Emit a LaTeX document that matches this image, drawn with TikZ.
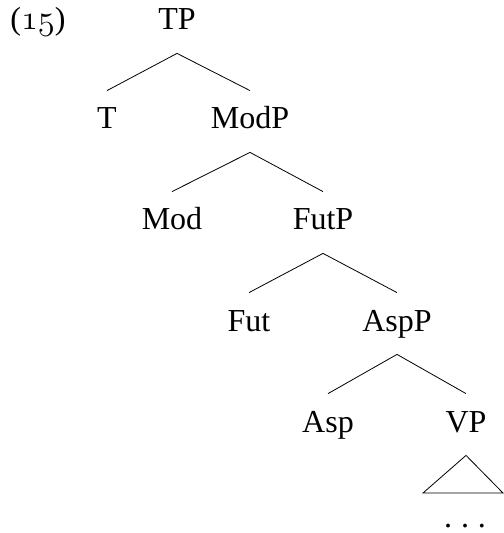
\documentclass[tikz,border=0pt]{standalone}
\usepackage{fontspec}
\setmainfont{Liberation Serif}
\usetikzlibrary{positioning}

% old style digits for the example number
\newcommand{\exnum}[1]{{\usefont{OML}{cmm}{m}{it}#1}}

\begin{document}
\begin{tikzpicture}[
            x = 0.5pt, y = -0.5pt, % one unit per pixel
            thin, % line style
            every node/.style={font=\fontsize{16}{18}\selectfont}
        ]

        \tikzstyle{cat}=[
            anchor = base,
            text height = 10.5pt,
            text depth = 3pt,
            inner xsep = 0pt,
            inner ysep = 8.5pt
        ]

        \useasboundingbox (0,0) rectangle (503,533);

        \node[anchor=base west, inner sep=0pt] (ex) at (10,30) {(\exnum{15})};

        \node[cat] (TP) at (177,30) {TP};

        \node[cat] (T) at (107,129) {T};
        \node[cat] (ModP) at (250,129) {ModP};

        \node[cat] (Mod) at (172,230) {Mod};
        \node[cat] (FutP) at (323,230) {FutP};

        \node[cat] (Fut) at (249,331) {Fut};
        \node[cat] (AspP) at (397,331) {AspP};

        \node[cat] (Asp) at (328,432) {Asp};
        \node[cat] (VP) at (466,432) {VP};

        \coordinate (VPl) at (423,493);
        \coordinate (VPr) at (503,493);
        \node[anchor=base, inner sep=0pt] (dots) at (465,527) {.\kern4.5pt.\kern4.5pt.};

        \path[-]
            (TP.south)    edge    (T.north)
            (TP.south)    edge    (ModP.north)
            (ModP.south)  edge    (Mod.north)
            (ModP.south)  edge    (FutP.north)
            (FutP.south)  edge    (Fut.north)
            (FutP.south)  edge    (AspP.north)
            (AspP.south)  edge    (Asp.north)
            (AspP.south)  edge    (VP.north);

        \draw (VP.south) -- (VPl) -- (VPr) -- cycle;

  \end{tikzpicture}
\end{document}
